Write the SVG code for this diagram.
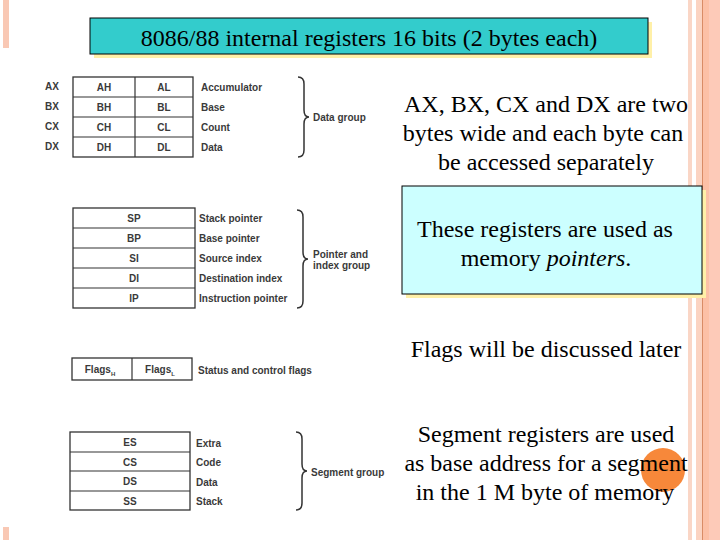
<svg xmlns="http://www.w3.org/2000/svg" width="720" height="540" viewBox="0 0 720 540">
<style>
.reg{fill:#fff;stroke:#333;stroke-width:1.3}
.t{font-family:"Liberation Sans",Arial,sans-serif;font-size:10px;font-weight:bold;fill:#3a3a3a}
.tc{font-family:"Liberation Sans",Arial,sans-serif;font-size:10px;font-weight:bold;fill:#3a3a3a;text-anchor:middle}
.br{fill:none;stroke:#333;stroke-width:1.5}
.s{font-family:"Liberation Serif","Times New Roman",serif;font-size:24px;fill:#000;text-anchor:middle}
</style>
<rect width="720" height="540" fill="#fff"/>
<g id="decor">
<rect x="3" y="0" width="6" height="48" fill="#f9c8b4"/>
<rect x="3" y="527" width="6" height="13" fill="#f9c8b4"/>
<rect x="688" y="0" width="4" height="540" fill="#fad6c6"/>
<rect x="696" y="0" width="6" height="540" fill="#fbd3c1"/>
<rect x="702" y="0" width="1.2" height="540" fill="#d98c66"/>
<rect x="703" y="0" width="6" height="540" fill="#fcc0a6"/>
<rect x="709" y="0" width="11" height="540" fill="#fdcab8"/>
</g>
<g id="title">
<rect x="94" y="22" width="558" height="36" fill="#fff0a8"/>
<rect x="90" y="18" width="558" height="36" fill="#33cccc" stroke="#000" stroke-width="1"/>
<text class="s" x="369" y="46">8086/88 internal registers 16 bits (2 bytes each)</text>
</g>
<g id="data-group">
<text class="t" x="45" y="90">AX</text>
<text class="t" x="45" y="110">BX</text>
<text class="t" x="45" y="130">CX</text>
<text class="t" x="45" y="150">DX</text>
<rect class="reg" x="73" y="77" width="120" height="80"/>
<line x1="73" y1="97" x2="193" y2="97" stroke="#333" stroke-width="1.2"/>
<line x1="73" y1="117" x2="193" y2="117" stroke="#333" stroke-width="1.2"/>
<line x1="73" y1="137" x2="193" y2="137" stroke="#333" stroke-width="1.2"/>
<line x1="135" y1="77" x2="135" y2="157" stroke="#333" stroke-width="1.2"/>
<text class="tc" x="104" y="91">AH</text><text class="tc" x="164" y="91">AL</text>
<text class="tc" x="104" y="111">BH</text><text class="tc" x="164" y="111">BL</text>
<text class="tc" x="104" y="131">CH</text><text class="tc" x="164" y="131">CL</text>
<text class="tc" x="104" y="151">DH</text><text class="tc" x="164" y="151">DL</text>
<text class="t" x="201" y="91">Accumulator</text>
<text class="t" x="201" y="111">Base</text>
<text class="t" x="201" y="131">Count</text>
<text class="t" x="201" y="151">Data</text>
<path class="br" d="M298,77 Q304,77 304,84 L304,110 Q304,117 309,117 Q304,117 304,124 L304,150 Q304,157 298,157"/>
<text class="t" x="313" y="121">Data group</text>
</g>
<g id="pointer-group">
<rect class="reg" x="73" y="208" width="122" height="100"/>
<line x1="73" y1="228" x2="195" y2="228" stroke="#333" stroke-width="1.2"/>
<line x1="73" y1="248" x2="195" y2="248" stroke="#333" stroke-width="1.2"/>
<line x1="73" y1="268" x2="195" y2="268" stroke="#333" stroke-width="1.2"/>
<line x1="73" y1="288" x2="195" y2="288" stroke="#333" stroke-width="1.2"/>
<text class="tc" x="134" y="222">SP</text>
<text class="tc" x="134" y="242">BP</text>
<text class="tc" x="134" y="262">SI</text>
<text class="tc" x="134" y="282">DI</text>
<text class="tc" x="134" y="302">IP</text>
<text class="t" x="199" y="222">Stack pointer</text>
<text class="t" x="199" y="242">Base pointer</text>
<text class="t" x="199" y="262">Source index</text>
<text class="t" x="199" y="282">Destination index</text>
<text class="t" x="199" y="302">Instruction pointer</text>
<path class="br" d="M297,210 Q303,210 303,217 L303,252 Q303,259 308,259 Q303,259 303,266 L303,301 Q303,308 297,308"/>
<text class="t" x="313" y="258">Pointer and</text>
<text class="t" x="313" y="269">index group</text>
</g>
<g id="flags">
<rect class="reg" x="72" y="358" width="120" height="22"/>
<line x1="132" y1="358" x2="132" y2="380" stroke="#333" stroke-width="1.2"/>
<text class="tc" x="100" y="373">Flags<tspan font-size="6" dy="3">H</tspan></text>
<text class="tc" x="160" y="373">Flags<tspan font-size="6" dy="3">L</tspan></text>
<text class="t" x="198" y="374">Status and control flags</text>
</g>
<g id="segment-group">
<rect class="reg" x="70" y="432" width="120" height="78"/>
<line x1="70" y1="452" x2="190" y2="452" stroke="#333" stroke-width="1.2"/>
<line x1="70" y1="471" x2="190" y2="471" stroke="#333" stroke-width="1.2"/>
<line x1="70" y1="491" x2="190" y2="491" stroke="#333" stroke-width="1.2"/>
<text class="tc" x="130" y="446">ES</text>
<text class="tc" x="130" y="466">CS</text>
<text class="tc" x="130" y="485">DS</text>
<text class="tc" x="130" y="505">SS</text>
<text class="t" x="196" y="447">Extra</text>
<text class="t" x="196" y="466">Code</text>
<text class="t" x="196" y="486">Data</text>
<text class="t" x="196" y="505">Stack</text>
<path class="br" d="M296,432 Q302,432 302,439 L302,464 Q302,471 307,471 Q302,471 302,478 L302,503 Q302,510 296,510"/>
<text class="t" x="311" y="476">Segment group</text>
</g>
<g id="note-data">
<text class="s" x="546" y="112">AX, BX, CX and DX are two</text>
<text class="s" x="543" y="141">bytes wide and each byte can</text>
<text class="s" x="546" y="170">be accessed separately</text>
</g>
<g id="note-pointers">
<rect x="406" y="190" width="300" height="108" fill="#fff0a8"/>
<rect x="402" y="186" width="300" height="108" fill="#ccffff" stroke="#000" stroke-width="1"/>
<text class="s" x="545" y="237">These registers are used as</text>
<text class="s" x="546" y="266">memory <tspan font-style="italic">pointers</tspan>.</text>
</g>
<g id="note-flags">
<text class="s" x="546" y="357">Flags will be discussed later</text>
</g>
<g id="note-segment">
<circle cx="663" cy="470" r="22" fill="#f7883a"/>
<text class="s" x="546" y="442">Segment registers are used</text>
<text class="s" x="546" y="471">as base address for a segment</text>
<text class="s" x="545" y="500">in the 1 M byte of memory</text>
</g>
</svg>
